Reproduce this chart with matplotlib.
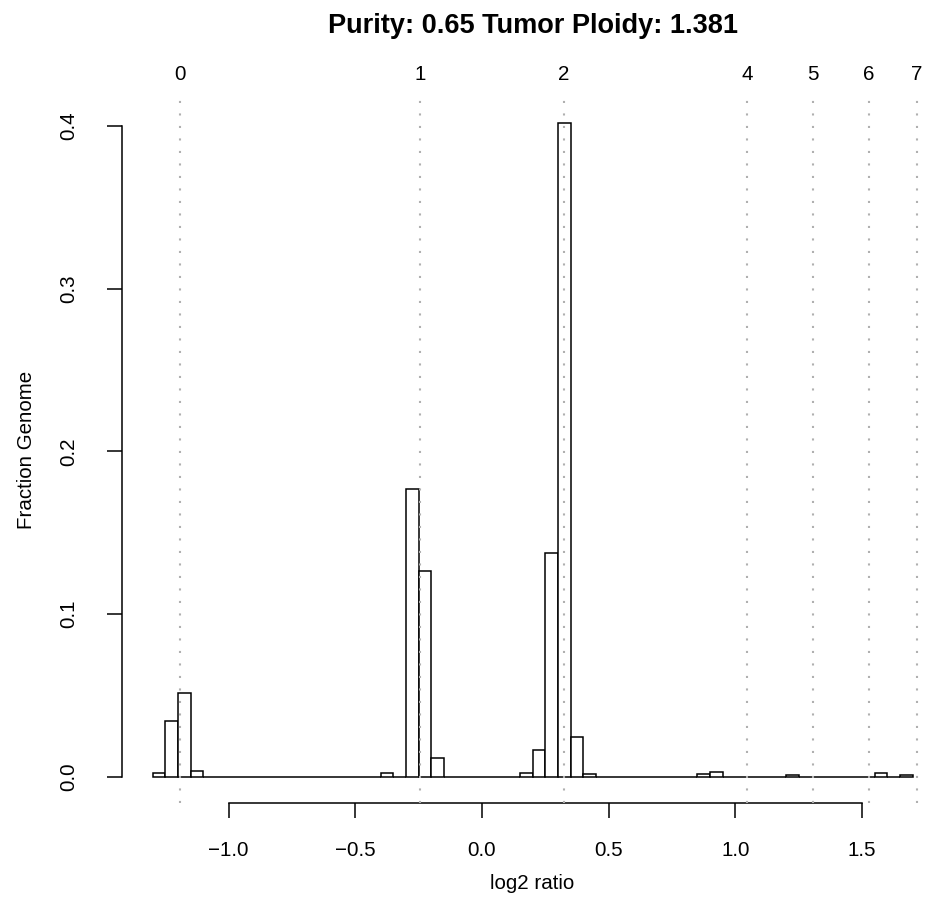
import numpy as np
import matplotlib
matplotlib.use("Agg")
import matplotlib.pyplot as plt
from matplotlib import transforms

plt.rcParams['font.family'] = ['Liberation Sans', 'DejaVu Sans']

# ---- data ----
bin_start = -1.30
bin_end = 1.70
bin_width = 0.05
# left edges of non-empty bins and their fraction of genome
bar_left = [-1.30, -1.25, -1.20, -1.15, -0.40, -0.30, -0.25, -0.20,
            0.15, 0.20, 0.25, 0.30, 0.35, 0.40, 0.85, 0.90, 1.20, 1.55, 1.65]
bar_frac = [0.0025, 0.0344, 0.0513, 0.0035, 0.0021, 0.1767, 0.1264, 0.0117,
            0.0023, 0.0166, 0.1374, 0.4020, 0.0244, 0.0015, 0.0015, 0.0027,
            0.0009, 0.0021, 0.0012]
# expected log2 ratio for each copy number state
cn_labels = ['0', '1', '2', '4', '5', '6', '7']
cn_log2 = [-1.190, -0.243, 0.324, 1.046, 1.306, 1.526, 1.716]
x_ticks = [-1.0, -0.5, 0.0, 0.5, 1.0, 1.5]
y_ticks = [0.0, 0.1, 0.2, 0.3, 0.4]
title = "Purity: 0.65 Tumor Ploidy: 1.381"

# ---- figure ----
W, H = 925, 921
fig = plt.figure(figsize=(W / 100, H / 100), dpi=100)
left_px, right_px, bottom_px, top_px = 122.2, 943.0, 802.9, 96.7
ax = fig.add_axes([left_px / W, 1 - bottom_px / H,
                   (right_px - left_px) / W, (bottom_px - top_px) / H])

# full set of bins (empty ones drawn flat like R's hist)
n_bins = int(round((bin_end - bin_start) / bin_width))
edges = np.round(bin_start + bin_width * np.arange(n_bins + 1), 4)
heights = np.zeros(n_bins)
for l, f in zip(bar_left, bar_frac):
    heights[int(round((l - bin_start) / bin_width))] = f
ax.bar(edges[:-1], heights, width=bin_width, align='edge',
       facecolor='white', edgecolor='black', linewidth=1.1, zorder=2)

# reference lines for copy number states
for xv in cn_log2:
    ax.axvline(xv, color='#b0b0b0', linewidth=1.5, linestyle=(0, (1, 5)),
               zorder=3)

span = bin_end - bin_start
ax.set_xlim(bin_start - 0.04 * span, bin_end + 0.04 * span)
ymax = max(bar_frac)
ax.set_ylim(-0.04 * ymax, ymax * 1.04)

for s in ['top', 'right']:
    ax.spines[s].set_visible(False)
ax.spines['left'].set_bounds(y_ticks[0], y_ticks[-1])
ax.spines['bottom'].set_bounds(x_ticks[0], x_ticks[-1])
for s in ['left', 'bottom']:
    ax.spines[s].set_linewidth(1.1)

ax.set_xticks(x_ticks)
ax.set_xticklabels([f"{v:.1f}".replace('-', '\u2212') for v in x_ticks])
ax.set_yticks(y_ticks)
ax.set_yticklabels([f"{v:.1f}" for v in y_ticks], rotation=90, va='center')
ax.tick_params(axis='both', direction='out', length=10.5, width=1.1,
               labelsize=14.8, colors='black')
ax.tick_params(axis='x', pad=17)
ax.tick_params(axis='y', pad=21)

# top labels for copy number states
trans = transforms.blended_transform_factory(ax.transData, ax.transAxes)
for xv, lab in zip(cn_log2, cn_labels):
    ax.annotate(lab, xy=(xv, 1.0), xycoords=trans, xytext=(0, 11.7),
                textcoords='offset points', ha='center', va='baseline',
                fontsize=14.8, annotation_clip=False)

ax.set_xlabel('log2 ratio', fontsize=14.8, labelpad=10)
ax.set_ylabel('Fraction Genome', fontsize=14.8, labelpad=17)
ax.set_title(title, fontsize=19.5, fontweight='bold', pad=46)

fig.savefig('out.png', dpi=100)
